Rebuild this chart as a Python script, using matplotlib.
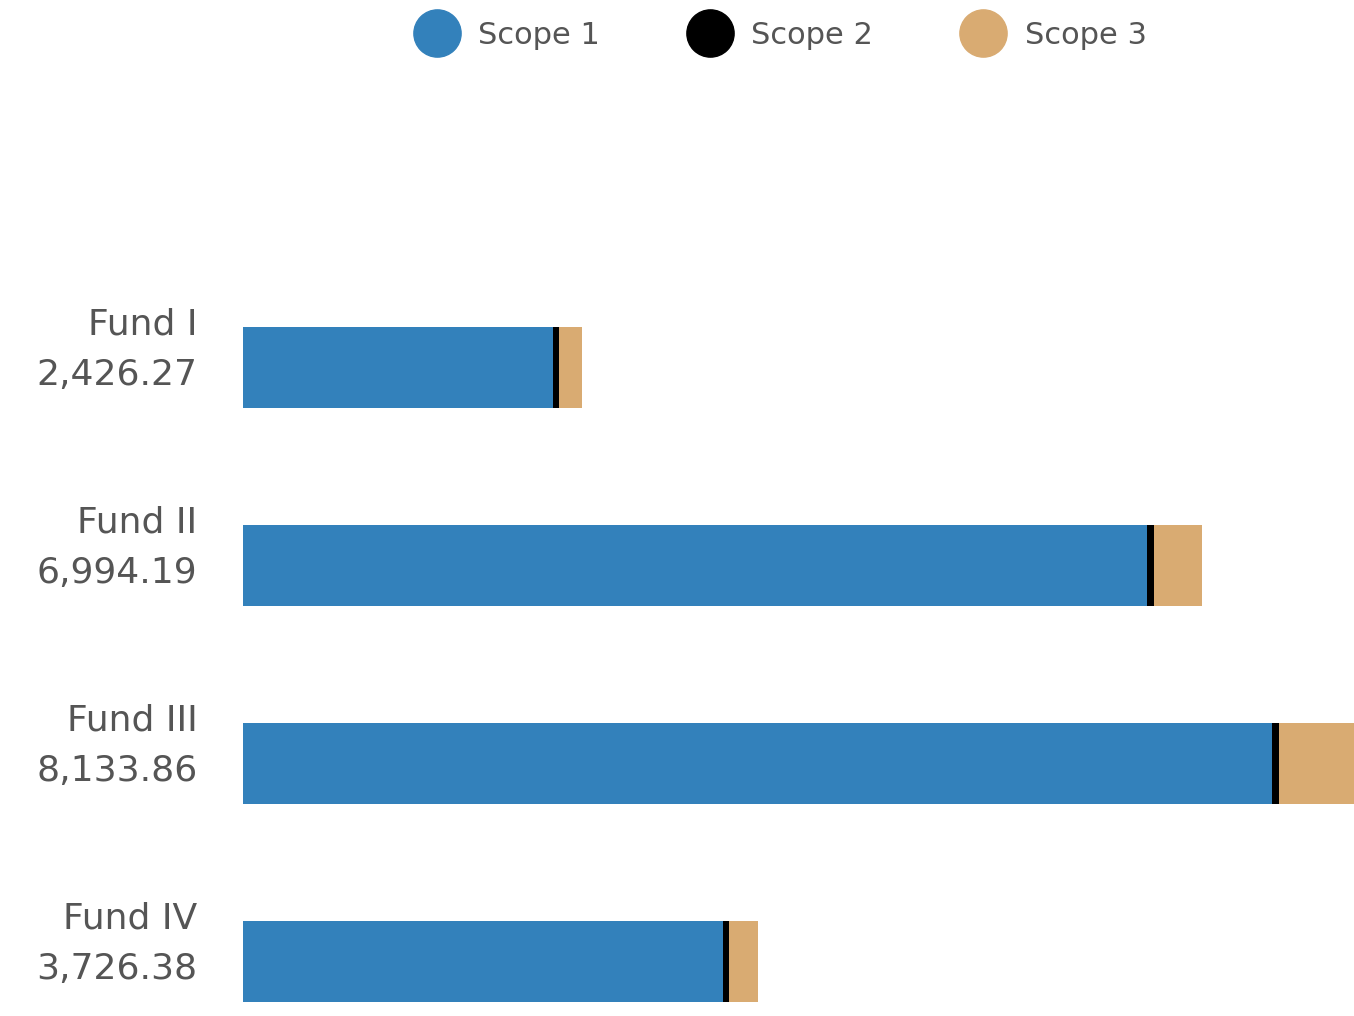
import matplotlib
matplotlib.use("Agg")
import matplotlib.pyplot as plt
from matplotlib.lines import Line2D
from matplotlib.transforms import blended_transform_factory
import numpy as np

funds = ["Fund I", "Fund II", "Fund III", "Fund IV"]
totals = ["2,426.27", "6,994.19", "8,133.86", "3,726.38"]
scope1 = [2259, 6596, 7503, 3499]
scope2 = [48, 51, 55, 48]
scope3 = [163, 348, 565, 207]
series_names = ["Scope 1", "Scope 2", "Scope 3"]
colors = ["#3381bb", "#000000", "#d9ab72"]

plt.rcParams['font.family'] = ['DejaVu Sans']
W, H = 1354, 1016
fig = plt.figure(figsize=(W / 100, H / 100), dpi=100)
ax = fig.add_axes([243 / W, 0, 1 - 243 / W, 1 - 100 / H])

y = np.arange(len(funds))
left = np.zeros(len(funds))
for vals, c in zip([scope1, scope2, scope3], colors):
    ax.barh(y, vals, left=left, height=0.41, color=c, linewidth=0)
    left = left + np.array(vals)

ax.set_xlim(0, 8104)
ax.set_ylim(3.275, -1.351)
ax.axis('off')

tr = blended_transform_factory(ax.transAxes, ax.transData)
for i, (f, t) in enumerate(zip(funds, totals)):
    ax.text(-0.041, i - 0.215, f, transform=tr, ha='right', va='center',
            fontsize=26, color='#555555')
    ax.text(-0.041, i + 0.04, t, transform=tr, ha='right', va='center',
            fontsize=26, color='#555555')

handles = [Line2D([], [], marker='o', linestyle='none', markersize=34,
                  markerfacecolor=c, markeredgecolor=c) for c in colors]
leg = fig.legend(handles, series_names, loc='center', bbox_to_anchor=(0.578, 1 - 35 / H),
                 ncol=3, frameon=False, fontsize=22, handletextpad=0.75,
                 columnspacing=3.0, handlelength=1.2, borderaxespad=0)
for txt in leg.get_texts():
    txt.set_color('#555555')

fig.savefig("out.png", dpi=100)
